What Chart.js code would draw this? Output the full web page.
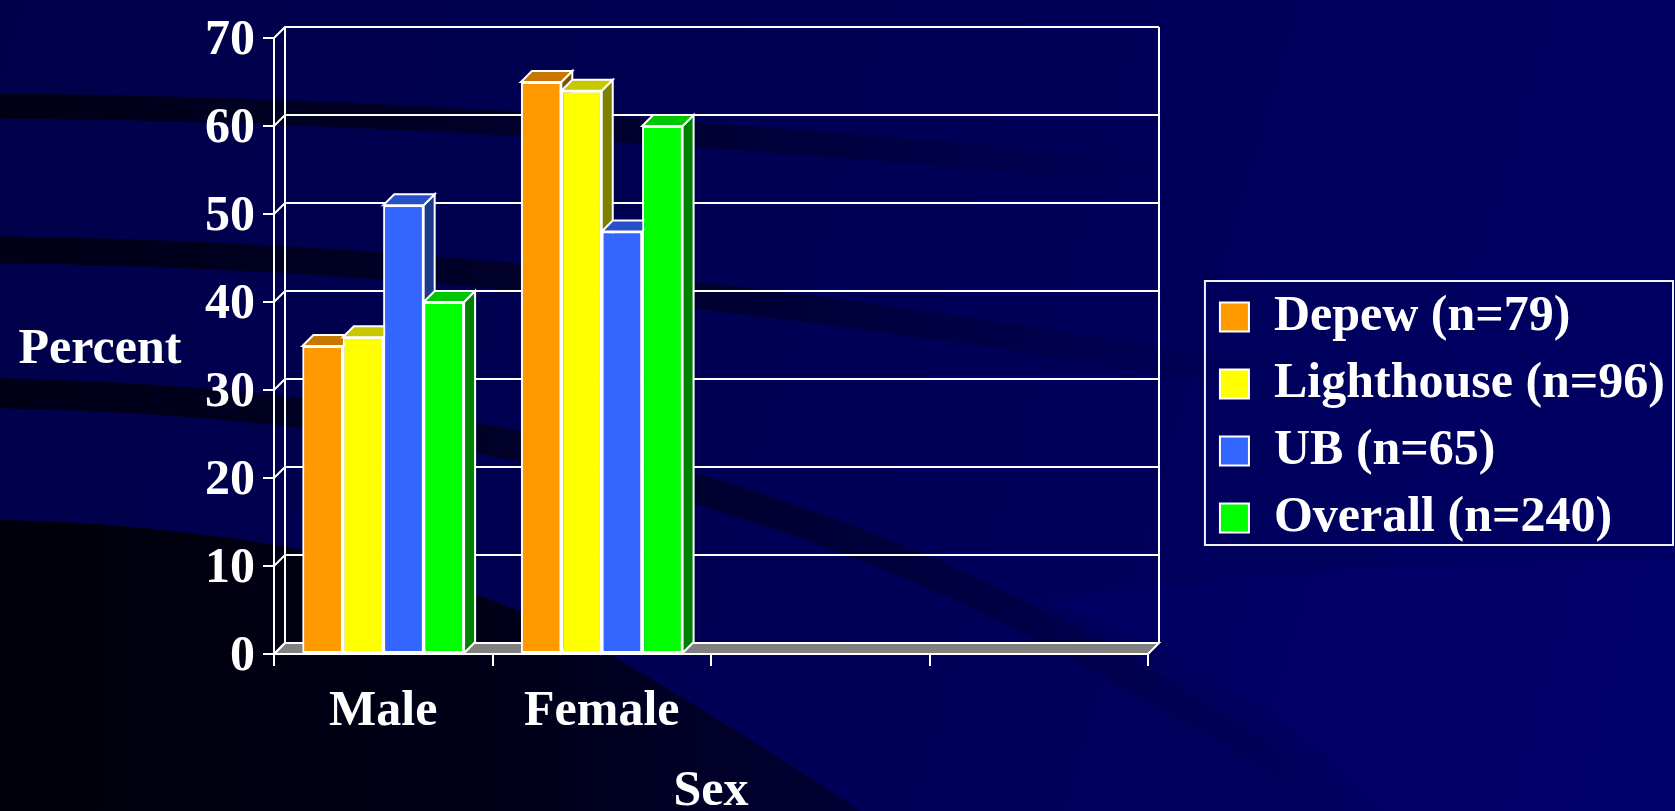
<!DOCTYPE html>
<html><head><meta charset="utf-8">
<script src="https://cdn.jsdelivr.net/npm/chart.js@4"></script>
<style>html,body{margin:0;padding:0;background:#000058;overflow:hidden;} #wrap{width:1675px;height:811px;position:relative;}</style>
</head><body><div id="wrap"><canvas id="c" width="1675" height="811"></canvas></div>
<script>
// ---- data ----
const categories = ['Male', 'Female', '', ''];
const seriesNames = ['Depew (n=79)', 'Lighthouse (n=96)', 'UB (n=65)', 'Overall (n=240)'];
const depew = [35, 65, null, null];
const lighthouse = [36, 64, null, null];
const ub = [51, 48, null, null];
const overall = [40, 60, null, null];
const yTicks = [0, 10, 20, 30, 40, 50, 60, 70];
const yTitle = 'Percent';
const xTitle = 'Sex';

// ---- style ----
const frontColors = ['#FF9900', '#FFFF00', '#3366FF', '#00FF00'];
const topColors = ['#C87800', '#C8C800', '#2850C8', '#00C800'];
const sideColors = ['#804C00', '#808000', '#1E3A8C', '#008000'];
const DX = 11, DY = 11;
const FONT = 'Liberation Serif';

const bgPlugin = {
  id: 'bg',
  beforeDraw(chart) {
    const ctx = chart.ctx, W = chart.width, H = chart.height;
    ctx.save();
    const g = ctx.createLinearGradient(0, 0, W, H * 0.6);
    g.addColorStop(0, '#00004A');
    g.addColorStop(0.5, '#000056');
    g.addColorStop(1, '#000064');
    ctx.fillStyle = g;
    ctx.fillRect(0, 0, W, H);
    // subtle lighter sweep lower right
    ctx.fillStyle = 'rgba(0,0,120,0.25)';
    ctx.beginPath();
    ctx.moveTo(1050, 600); ctx.bezierCurveTo(1200, 660, 1320, 740, 1380, 811);
    ctx.lineTo(1675, 811); ctx.lineTo(1675, 560);
    ctx.bezierCurveTo(1450, 560, 1250, 570, 1050, 600);
    ctx.closePath(); ctx.fill();
    // dark bands (strokes fading to the right)
    const band = (pts, w, x0, x1) => {
      const gr = ctx.createLinearGradient(x0, 0, x1, 0);
      gr.addColorStop(0, 'rgba(0,0,20,0.95)');
      gr.addColorStop(0.55, 'rgba(0,0,25,0.6)');
      gr.addColorStop(1, 'rgba(0,0,40,0)');
      ctx.strokeStyle = gr; ctx.lineWidth = w; ctx.lineCap = 'butt';
      ctx.beginPath();
      ctx.moveTo(pts[0][0], pts[0][1]);
      for (let k = 1; k < pts.length; k += 3) {
        ctx.bezierCurveTo(pts[k][0], pts[k][1], pts[k + 1][0], pts[k + 1][1], pts[k + 2][0], pts[k + 2][1]);
      }
      ctx.stroke();
    };
    band([[-10, 106], [350, 108], [750, 135], [1150, 172]], 25, 0, 1180);
    band([[-10, 250], [350, 253], [750, 290], [1250, 375]], 27, 0, 1280);
    band([[-10, 393], [300, 398], [550, 445], [700, 490], [880, 545], [1050, 610], [1350, 811]], 30, 0, 1350);
    // dark lower-left region
    const g2 = ctx.createLinearGradient(0, 0, 900, 0);
    g2.addColorStop(0, 'rgba(0,0,10,1)');
    g2.addColorStop(0.6, 'rgba(0,0,24,0.95)');
    g2.addColorStop(1, 'rgba(0,0,40,0.7)');
    ctx.fillStyle = g2;
    ctx.beginPath();
    ctx.moveTo(0, 520);
    ctx.bezierCurveTo(250, 525, 480, 575, 620, 660);
    ctx.bezierCurveTo(720, 720, 800, 770, 860, 811);
    ctx.lineTo(0, 811); ctx.closePath(); ctx.fill();
    ctx.restore();
  }
};

const legendWidthPlugin = {
  id: 'legendWidth',
  afterInit(chart) {
    const lg = chart.legend;
    if (lg && !lg.__wide) {
      const orig = lg.update.bind(lg);
      lg.update = (maxW, maxH, margins) => orig(Math.max(maxW, chart.width * 0.45), maxH, margins);
      lg.__wide = true;
    }
  }
};

const wallPlugin = {
  id: 'walls',
  beforeDatasetsDraw(chart) {
    const ctx = chart.ctx, a = chart.chartArea, ys = chart.scales.y;
    const b = ys.getPixelForValue(yTicks[0]);
    const t = ys.getPixelForValue(yTicks[yTicks.length - 1]);
    ctx.save();
    ctx.lineWidth = 2; ctx.strokeStyle = '#FFFFFF'; ctx.lineJoin = 'miter';
    ctx.fillStyle = '#808080';
    ctx.beginPath();
    ctx.moveTo(a.left, b); ctx.lineTo(a.right, b); ctx.lineTo(a.right + DX, b - DY); ctx.lineTo(a.left + DX, b - DY);
    ctx.closePath(); ctx.fill(); ctx.stroke();
    yTicks.forEach(v => {
      const p = ys.getPixelForValue(v);
      ctx.beginPath(); ctx.moveTo(a.left, p); ctx.lineTo(a.left + DX, p - DY); ctx.lineTo(a.right + DX, p - DY); ctx.stroke();
    });
    ctx.beginPath(); ctx.moveTo(a.left + DX, b - DY); ctx.lineTo(a.left + DX, t - DY); ctx.stroke();
    ctx.beginPath(); ctx.moveTo(a.right + DX, b - DY); ctx.lineTo(a.right + DX, t - DY); ctx.stroke();
    ctx.restore();
  }
};

const barsPlugin = {
  id: 'bars3d',
  afterDatasetsDraw(chart) {
    const ctx = chart.ctx;
    chart.data.datasets.forEach((ds, i) => {
      const meta = chart.getDatasetMeta(i);
      meta.data.forEach((el, j) => {
        if (ds.data[j] == null) return;
        el.draw(ctx, chart.chartArea);
        const {x, y, width, base} = el.getProps(['x', 'y', 'width', 'base'], true);
        const l = x - width / 2, r = x + width / 2;
        ctx.save();
        ctx.lineWidth = 2; ctx.strokeStyle = '#FFFFFF'; ctx.lineJoin = 'miter';
        ctx.fillStyle = sideColors[i];
        ctx.beginPath();
        ctx.moveTo(r, y); ctx.lineTo(r + DX, y - DY); ctx.lineTo(r + DX, base - DY); ctx.lineTo(r, base);
        ctx.closePath(); ctx.fill(); ctx.stroke();
        ctx.fillStyle = topColors[i];
        ctx.beginPath();
        ctx.moveTo(l, y); ctx.lineTo(r, y); ctx.lineTo(r + DX, y - DY); ctx.lineTo(l + DX, y - DY);
        ctx.closePath(); ctx.fill(); ctx.stroke();
        ctx.restore();
      });
    });
  }
};

const textPlugin = {
  id: 'texts',
  afterDraw(chart) {
    const ctx = chart.ctx, a = chart.chartArea;
    ctx.save();
    ctx.fillStyle = '#FFFFFF';
    ctx.font = 'bold 50px "' + FONT + '"';
    ctx.textAlign = 'center'; ctx.textBaseline = 'middle';
    ctx.fillText(yTitle, chart.scales.y.left + 100, (a.top + a.bottom) / 2 + 4);
    const lg = chart.legend, hb = lg.legendHitBoxes;
    if (hb && hb.length) {
      const last = hb[hb.length - 1];
      const l = hb[0].left - 15, t = hb[0].top - 11, r = lg.right - 2, bt = last.top + last.height + 2;
      ctx.strokeStyle = '#F0F0FF'; ctx.lineWidth = 2;
      ctx.strokeRect(l, t, r - l, bt - t);
    }
    ctx.restore();
  }
};

const seriesData = [depew, lighthouse, ub, overall];
const datasets = seriesNames.map((n, i) => ({
  label: n,
  data: seriesData[i],
  backgroundColor: frontColors[i],
  borderColor: '#FFFFFF',
  borderWidth: 2,
  borderSkipped: false,
  barPercentage: 1.0,
  categoryPercentage: 0.74
}));

new Chart(document.getElementById('c'), {
  type: 'bar',
  data: { labels: categories, datasets },
  plugins: [legendWidthPlugin, bgPlugin, wallPlugin, barsPlugin, textPlugin],
  options: {
    responsive: false,
    animation: false,
    events: [],
    layout: { padding: { top: 24, bottom: 0, left: 0, right: 0 } },
    plugins: {
      tooltip: { enabled: false },
      title: { display: false },
      legend: {
        position: 'right',
        labels: {
          color: '#FFFFFF',
          font: { family: FONT, size: 50, weight: 'bold' },
          boxWidth: 29, boxHeight: 29, padding: 17
        }
      }
    },
    scales: {
      x: {
        afterFit(s) { s.height = 157; },
        grid: { display: true, offset: true, drawOnChartArea: false, drawTicks: true, tickLength: 12, color: '#FFFFFF', lineWidth: 2 },
        border: { display: true, color: '#FFFFFF', width: 2 },
        ticks: { color: '#FFFFFF', font: { family: FONT, size: 50, weight: 'bold' }, padding: 16, maxRotation: 0, autoSkip: false },
        title: { display: true, text: xTitle, color: '#FFFFFF', font: { family: FONT, size: 50, weight: 'bold', lineHeight: 0.76 }, padding: 0 }
      },
      y: {
        min: 0, max: 70,
        afterFit(s) { s.width = 274; },
        afterBuildTicks(s) { s.ticks = yTicks.map(v => ({ value: v })); },
        grid: { display: true, drawOnChartArea: false, drawTicks: true, tickLength: 11, color: '#FFFFFF', lineWidth: 2 },
        border: { display: true, color: '#FFFFFF', width: 2 },
        ticks: { color: '#FFFFFF', font: { family: FONT, size: 50, weight: 'bold' }, padding: 8, labelOffset: 3 }
      },
      gap: {
        type: 'linear', position: 'right', display: true,
        afterFit(s) { s.width = Math.max(0, 1675 - s.chart.legend.width - 1148); },
        grid: { display: false }, border: { display: false }, ticks: { display: false }
      }
    }
  }
});
</script></body></html>
